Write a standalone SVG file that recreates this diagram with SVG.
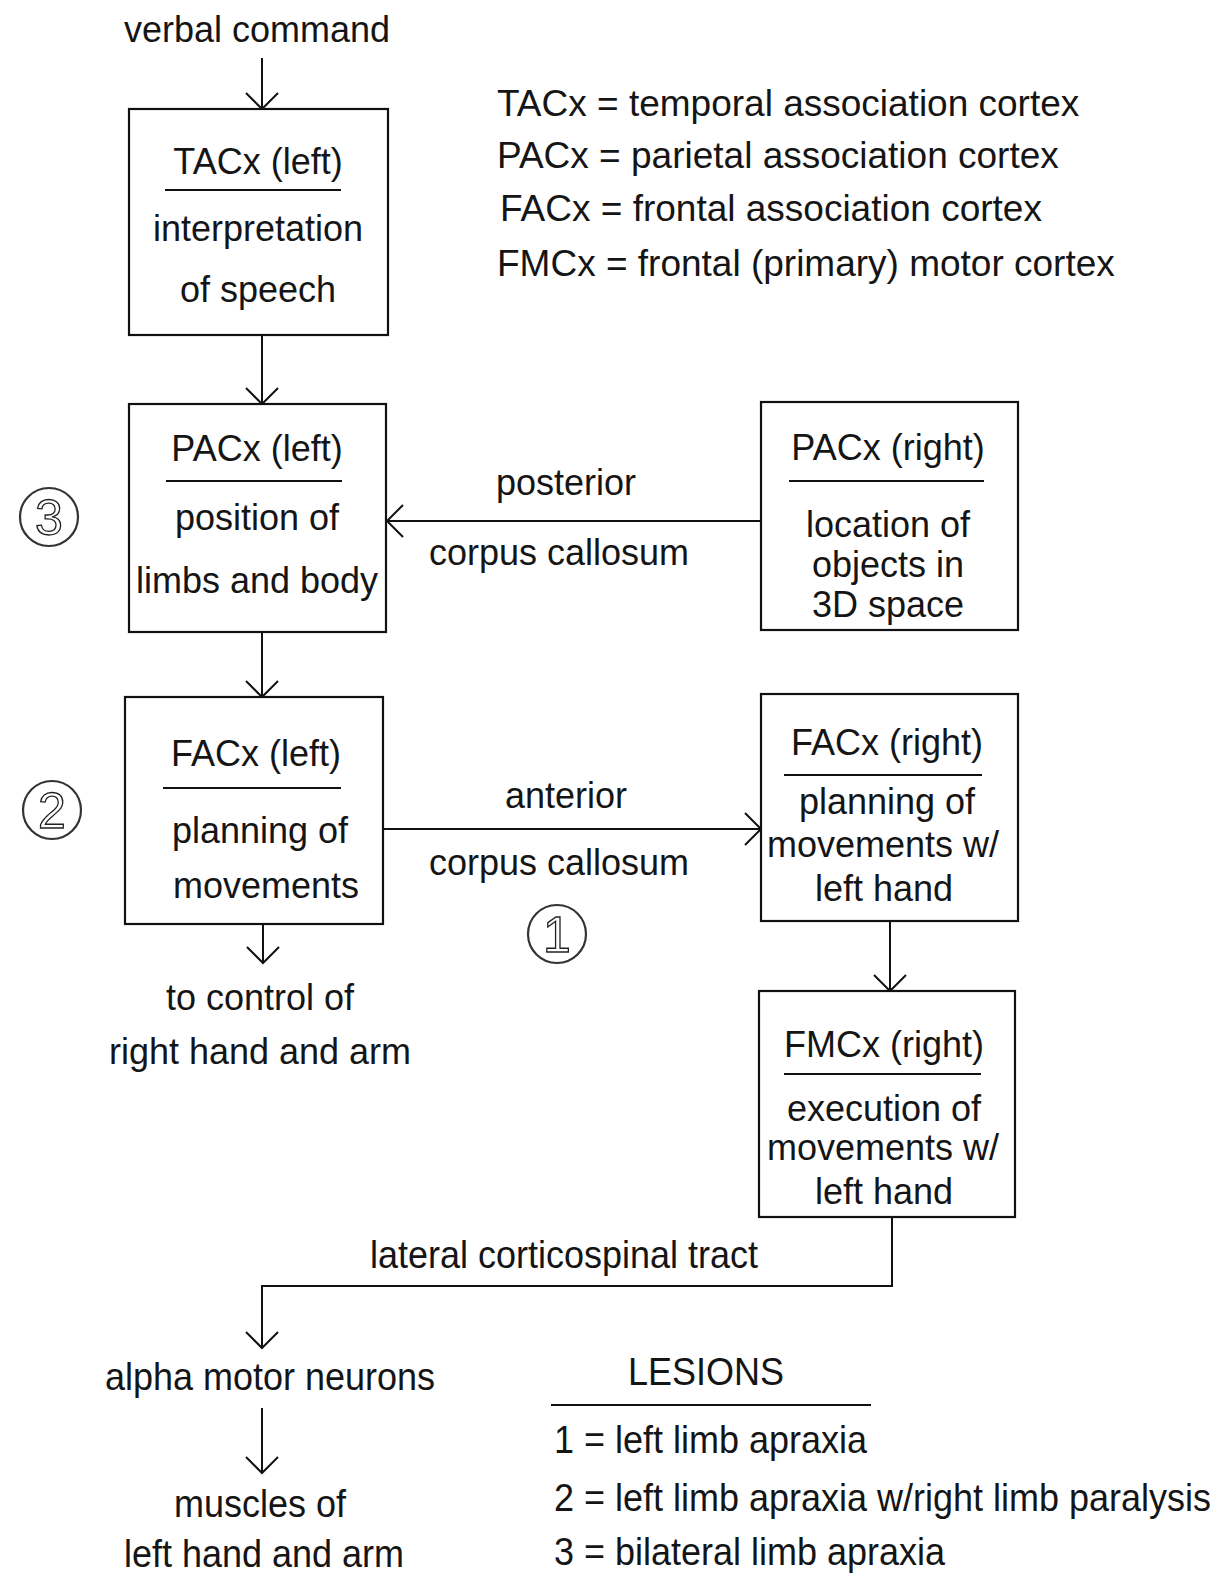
<svg xmlns="http://www.w3.org/2000/svg" width="1220" height="1577" viewBox="0 0 1220 1577">
<style>
text{font-family:"Liberation Sans",Arial,sans-serif;font-size:36px;fill:#151515}
.c{text-anchor:middle}
.lg{font-size:37px}
.box{fill:#fff;stroke:#111;stroke-width:2.2}
.ul{stroke:#111;stroke-width:2}
.ln{fill:none;stroke:#111;stroke-width:2}
.ring{fill:none;stroke:#333;stroke-width:2.2}
.dg{font-size:50px;fill:none;stroke:#222;stroke-width:1.3;text-anchor:middle}
</style>
<defs>
<marker id="ah" markerUnits="userSpaceOnUse" markerWidth="40" markerHeight="40" viewBox="-20 -20 40 40" refX="0" refY="0" orient="auto">
<path d="M-16,-16 L0,0 L-16,16" fill="none" stroke="#111" stroke-width="2"/>
</marker>
</defs>
<rect width="1220" height="1577" fill="#fff"/>

<g id="legend">
<text class="lg" x="497" y="116">TACx = temporal association cortex</text>
<text class="lg" x="497" y="168">PACx = parietal association cortex</text>
<text class="lg" x="500" y="221">FACx = frontal association cortex</text>
<text class="lg" x="497" y="276">FMCx = frontal (primary) motor cortex</text>
</g>

<g id="connectors">
<line class="ln" x1="262" y1="58" x2="262" y2="109" marker-end="url(#ah)"/>
<line class="ln" x1="262" y1="335" x2="262" y2="404" marker-end="url(#ah)"/>
<line class="ln" x1="761" y1="521" x2="387" y2="521" marker-end="url(#ah)"/>
<line class="ln" x1="262" y1="632" x2="262" y2="697" marker-end="url(#ah)"/>
<line class="ln" x1="383" y1="829" x2="761" y2="829" marker-end="url(#ah)"/>
<line class="ln" x1="263" y1="924" x2="263" y2="963" marker-end="url(#ah)"/>
<line class="ln" x1="890" y1="921" x2="890" y2="991" marker-end="url(#ah)"/>
<path class="ln" d="M892,1217 V1286 H262 V1348" marker-end="url(#ah)"/>
<line class="ln" x1="262" y1="1408" x2="262" y2="1473" marker-end="url(#ah)"/>
<text class="c" x="566" y="495">posterior</text>
<text class="c" x="559" y="565">corpus callosum</text>
<text class="c" x="566" y="808">anterior</text>
<text class="c" x="559" y="875">corpus callosum</text>
<text class="c" transform="translate(564,1268) scale(1,1.1)">lateral corticospinal tract</text>
</g>

<g id="verbal">
<text class="c" x="257" y="42">verbal command</text>
</g>

<g id="tacx-left">
<rect class="box" x="129" y="109" width="259" height="226"/>
<text class="c" x="258" y="174">TACx (left)</text>
<line class="ul" x1="165" y1="190" x2="341" y2="190"/>
<text class="c" x="258" y="241">interpretation</text>
<text class="c" x="258" y="302">of speech</text>
</g>

<g id="pacx-left">
<rect class="box" x="129" y="404" width="257" height="228"/>
<text class="c" x="257" y="461">PACx (left)</text>
<line class="ul" x1="166" y1="481" x2="342" y2="481"/>
<text class="c" x="257" y="530">position of</text>
<text class="c" x="257" y="593">limbs and body</text>
</g>

<g id="pacx-right">
<rect class="box" x="761" y="402" width="257" height="228"/>
<text class="c" x="888" y="460">PACx (right)</text>
<line class="ul" x1="789" y1="481" x2="984" y2="481"/>
<text class="c" x="888" y="537">location of</text>
<text class="c" x="888" y="577">objects in</text>
<text class="c" x="888" y="617">3D space</text>
</g>

<g id="facx-left">
<rect class="box" x="125" y="697" width="258" height="227"/>
<text class="c" x="256" y="766">FACx (left)</text>
<line class="ul" x1="163" y1="788" x2="341" y2="788"/>
<text class="c" x="260" y="843">planning of</text>
<text class="c" x="266" y="898">movements</text>
</g>

<g id="facx-right">
<rect class="box" x="761" y="694" width="257" height="227"/>
<text class="c" x="887" y="755">FACx (right)</text>
<line class="ul" x1="784" y1="775" x2="982" y2="775"/>
<text class="c" x="887" y="814">planning of</text>
<text class="c" x="883" y="857">movements w/</text>
<text class="c" x="884" y="901">left hand</text>
</g>

<g id="fmcx-right">
<rect class="box" x="759" y="991" width="256" height="226"/>
<text class="c" x="884" y="1057">FMCx (right)</text>
<line class="ul" x1="784" y1="1074" x2="981" y2="1074"/>
<text class="c" x="884" y="1121">execution of</text>
<text class="c" x="883" y="1160">movements w/</text>
<text class="c" x="884" y="1204">left hand</text>
</g>

<g id="right-control">
<text class="c" x="260" y="1010">to control of</text>
<text class="c" x="260" y="1064">right hand and arm</text>
</g>

<g id="alpha">
<text class="c" transform="translate(270,1390) scale(1,1.1)">alpha motor neurons</text>
</g>

<g id="muscles">
<text class="c" transform="translate(260,1517) scale(1,1.1)">muscles of</text>
<text class="c" transform="translate(264,1567) scale(1,1.08)">left hand and arm</text>
</g>

<g id="lesion-3">
<circle class="ring" cx="49" cy="517" r="29"/>
<text class="dg" x="49" y="535">3</text>
</g>
<g id="lesion-2">
<circle class="ring" cx="52" cy="810" r="29"/>
<text class="dg" x="52" y="828">2</text>
</g>
<g id="lesion-1">
<circle class="ring" cx="557" cy="934" r="29"/>
<text class="dg" x="557" y="952">1</text>
</g>

<g id="lesions-key">
<text class="c" transform="translate(706,1385) scale(1,1.1)">LESIONS</text>
<line class="ul" x1="551" y1="1405" x2="871" y2="1405"/>
<text transform="translate(554,1453) scale(1,1.1)">1 = left limb apraxia</text>
<text transform="translate(554,1511) scale(1,1.1)">2 = left limb apraxia w/right limb paralysis</text>
<text transform="translate(554,1565) scale(1,1.08)">3 = bilateral limb apraxia</text>
</g>
</svg>
